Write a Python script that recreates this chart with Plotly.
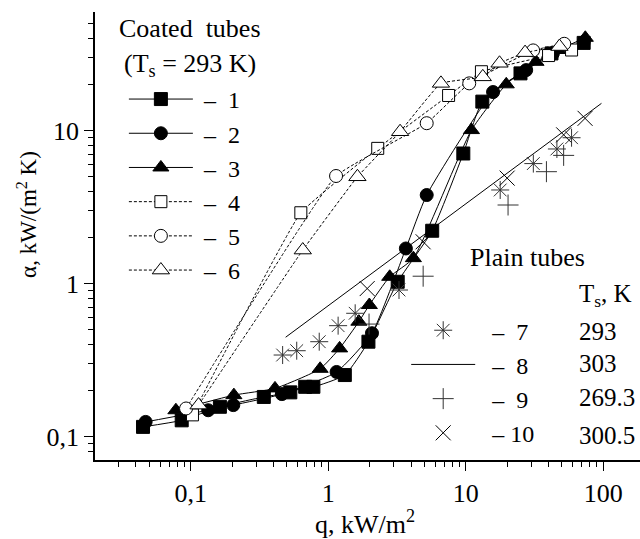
import plotly.graph_objects as go

# ---- data (q in kW/m2, alpha in kW/(m2 K)) ----
q1 = [0.045, 0.086, 0.163, 0.34, 0.53, 0.68, 0.78, 1.32, 1.96, 3.2, 5.7, 9.6, 13.2, 25, 42, 72]
a1 = [0.116, 0.128, 0.157, 0.182, 0.195, 0.212, 0.212, 0.253, 0.418, 1.03, 2.22, 7.1, 15.5, 23.7, 32, 37.5]

q2 = [0.047, 0.134, 0.204, 0.46, 1.15, 2.08, 3.67, 5.2, 15.8, 27.5, 43, 72]
a2 = [0.125, 0.149, 0.161, 0.19, 0.265, 0.475, 1.7, 3.8, 17.9, 24.9, 32, 38]

q3 = [0.078, 0.206, 0.41, 0.873, 1.21, 1.67, 1.99, 2.8, 4.16, 11.0, 19.7, 32.4, 47, 74]
a3 = [0.149, 0.187, 0.207, 0.278, 0.378, 0.565, 0.726, 1.11, 1.47, 10.1, 20.1, 28.2, 33.7, 40.5]

q4 = [0.103, 0.632, 2.29, 7.5, 13.0, 40, 58.8]
a4 = [0.139, 2.91, 7.67, 17.0, 24.3, 31, 33.7]

q5 = [0.0925, 1.14, 5.2, 10.6, 30.9, 52]
a5 = [0.153, 5.06, 11.2, 20.4, 33.5, 37]

q6 = [0.114, 0.653, 1.63, 3.33, 6.6, 13.3, 17.6, 27, 48]
a6 = [0.161, 1.66, 5.0, 9.85, 20.4, 22.5, 27.6, 32.4, 35.5]

q7 = [0.466, 0.59, 0.86, 1.18, 1.57, 3.27, 17.8, 31, 46, 58.8]
a7 = [0.342, 0.365, 0.418, 0.532, 0.641, 0.91, 4.1, 6.1, 7.6, 9.0]

q8 = [0.49, 97]
a8 = [0.447, 15.1]

q9 = [1.98, 4.9, 20.3, 38.6, 51.5]
a9 = [0.545, 1.12, 3.27, 5.4, 6.9]

q10 = [1.92, 4.9, 20.0, 51.5, 73.7]
a10 = [0.93, 1.88, 4.9, 9.4, 12.05]

NB = "\u00a0"
coated_names = [NB + "–" + NB * 2 + str(k) for k in range(1, 7)]
plain_names = [NB * 2 + "–" + NB * 2 + "7", NB * 2 + "–" + NB * 2 + "8",
               NB * 2 + "–" + NB * 2 + "9", NB * 2 + "–" + NB + "10"]
plain_ts = ["293", "303", "269.3", "300.5"]

FONT = "Liberation Serif"
BLACK = "black"
FS = 24

fig = go.Figure()

coated = [
    (q1, a1, "square", "solid", 13, BLACK, 0.5),
    (q2, a2, "circle", "solid", 13, BLACK, 0.5),
    (q3, a3, "triangle-up", "solid", 14, BLACK, 0.5),
    (q4, a4, "square", "3px,2px", 12, "white", 0.3),
    (q5, a5, "circle", "3px,2px", 13, "white", 0.3),
    (q6, a6, "triangle-up", "3px,2px", 15, "white", 0.3),
]
for i, (q, a, sym, dash, sz, fill, sm) in enumerate(coated):
    fig.add_trace(go.Scatter(
        x=q, y=a, mode="lines+markers", name=coated_names[i],
        line=dict(color=BLACK, width=1, dash=dash, shape="spline", smoothing=sm),
        marker=dict(symbol=sym, size=sz, color=fill, line=dict(color=BLACK, width=1)),
        legend="legend",
    ))

fig.add_trace(go.Scatter(
    x=q7, y=a7, mode="markers", name=plain_names[0],
    marker=dict(symbol="asterisk-open", size=15, color="#333", line=dict(color="#333", width=1)),
    legend="legend2"))
fig.add_trace(go.Scatter(
    x=q8, y=a8, mode="lines", name=plain_names[1],
    line=dict(color=BLACK, width=1), legend="legend2"))
fig.add_trace(go.Scatter(
    x=q9, y=a9, mode="markers", name=plain_names[2],
    marker=dict(symbol="cross-thin-open", size=15, color="#333", line=dict(color="#333", width=1)),
    legend="legend2"))
fig.add_trace(go.Scatter(
    x=q10, y=a10, mode="markers", name=plain_names[3],
    marker=dict(symbol="x-thin-open", size=15, color=BLACK, line=dict(color=BLACK, width=1)),
    legend="legend2"))

axis_common = dict(
    type="log", showline=True, linecolor=BLACK, linewidth=1.5, mirror=False,
    showgrid=False, zeroline=False, ticks="outside", ticklen=9, tickwidth=1.2,
    tickcolor=BLACK, tickmode="linear", tick0=0, dtick=1, automargin=False,
    tickfont=dict(family=FONT, size=26, color=BLACK),
    minor=dict(ticks="outside", ticklen=5, tickwidth=1, tickcolor=BLACK, showgrid=False),
)

# Ts column of the plain-tube legend (one row per legend entry)
ts_rows_y = [0.2864, 0.2165, 0.1384, 0.0558]
ann = [
    dict(text="Coated" + NB * 2 + "tubes", x=0.174, y=0.964, size=26),
    dict(text="(T<sub>s</sub> = 293 K)", x=0.174, y=0.882, size=26),
    dict(text="Plain tubes", x=0.793, y=0.453, size=26),
    dict(text="T<sub>s</sub>, K", x=0.884, y=0.368, xanchor="left", size=25),
    dict(text="q, kW/m<sup>2</sup>", x=0.495, y=-0.14, size=26),
    dict(text="α, kW/(m<sup>2</sup> K)", x=-0.125, y=0.549, textangle=-90, size=23),
]
for t, yy in zip(plain_ts, ts_rows_y):
    ann.append(dict(text=t, x=0.884, y=yy, xanchor="left", size=25))
for a in ann:
    a.setdefault("xanchor", "center")
    sz = a.pop("size")
    a.update(xref="paper", yref="paper", showarrow=False, yanchor="middle",
             font=dict(family=FONT, size=sz, color=BLACK))

fig.update_layout(
    width=640, height=539,
    margin=dict(l=95, r=0, t=12, b=79, autoexpand=False),
    paper_bgcolor="white", plot_bgcolor="white",
    separators=", ",
    font=dict(family=FONT, size=FS, color=BLACK),
    xaxis=dict(range=[-1.696, 2.267], **axis_common),
    yaxis=dict(range=[-1.152, 1.776], **axis_common),
    legend=dict(x=0.053, y=0.855, xanchor="left", yanchor="top",
                bgcolor="rgba(0,0,0,0)", itemwidth=64, traceorder="normal",
                font=dict(family=FONT, size=FS, color=BLACK)),
    legend2=dict(x=0.571, y=0.339, xanchor="left", yanchor="top",
                 bgcolor="rgba(0,0,0,0)", itemwidth=64,
                 font=dict(family=FONT, size=FS, color=BLACK)),
    annotations=ann,
)

fig.write_html("out.html",
               config={"displayModeBar": False},
               post_script="document.body.style.margin='0';document.body.style.overflow='hidden';")
